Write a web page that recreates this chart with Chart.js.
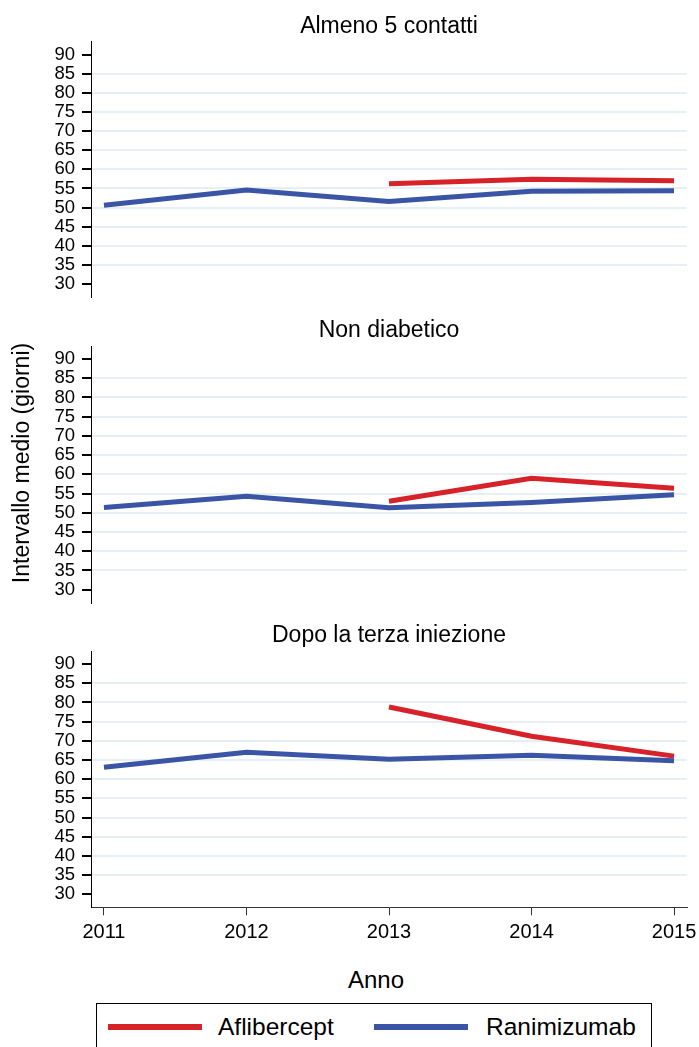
<!DOCTYPE html>
<html>
<head>
<meta charset="utf-8">
<script src="https://cdn.jsdelivr.net/npm/chart.js@4.4.1/dist/chart.umd.min.js"></script>
<style>
  html, body { margin: 0; padding: 0; background: #fff; width: 699px; height: 1047px; overflow: hidden; }
  body { position: relative; font-family: "Liberation Sans", Arial, sans-serif; color: #000; }
  canvas { position: absolute; left: 0; }
  .txt { position: absolute; white-space: nowrap; }
  .ptitle { position: absolute; left: 189px; width: 400px; text-align: center; font-size: 23px; line-height: 26px; }
</style>
</head>
<body>
<canvas id="c1" width="699" height="300" style="top:0px"></canvas>
<canvas id="c2" width="699" height="305" style="top:300px"></canvas>
<canvas id="c3" width="699" height="345" style="top:605px"></canvas>

<div class="ptitle" id="t1" style="top:12px;"></div>
<div class="ptitle" id="t2" style="top:316px;"></div>
<div class="ptitle" id="t3" style="top:621px;"></div>

<div class="txt" id="ytitle" style="left:-179px; top:448px; width:400px; height:30px; line-height:30px; font-size:23px; text-align:center; transform:rotate(-90deg);">Intervallo medio (giorni)</div>
<div class="txt" style="left:276px; top:968px; width:200px; line-height:24px; font-size:24px; text-align:center;">Anno</div>

<div style="position:absolute; left:96px; top:1003px; width:556px; height:60px; border:1.3px solid #000; box-sizing:border-box;"></div>
<div style="position:absolute; left:108px; top:1024px; width:94px; height:6px; background:#d7222a;"></div>
<div class="txt" id="l1" style="left:218px; top:1012px; font-size:24.5px; line-height:30px;"></div>
<div style="position:absolute; left:374px; top:1024px; width:94px; height:6px; background:#3a55a5;"></div>
<div class="txt" id="l2" style="left:486px; top:1012px; font-size:24.5px; line-height:30px;"></div>

<script>
const years = [2011, 2012, 2013, 2014, 2015];
const yTicks = [30, 35, 40, 45, 50, 55, 60, 65, 70, 75, 80, 85, 90];
const seriesNames = ["Aflibercept", "Ranimizumab"];
const panelTitles = ["Almeno 5 contatti", "Non diabetico", "Dopo la terza iniezione"];

const aflibercept1 = [null, null, 56.2, 57.4, 57.0];
const ranimizumab1 = [50.6, 54.6, 51.6, 54.3, 54.4];

const aflibercept2 = [null, null, 53.0, 59.0, 56.4];
const ranimizumab2 = [51.4, 54.3, 51.3, 52.7, 54.7];

const aflibercept3 = [null, null, 78.8, 71.2, 66.0];
const ranimizumab3 = [63.1, 67.0, 65.2, 66.2, 64.8];

document.getElementById('t1').textContent = panelTitles[0];
document.getElementById('t2').textContent = panelTitles[1];
document.getElementById('t3').textContent = panelTitles[2];
document.getElementById('l1').textContent = seriesNames[0];
document.getElementById('l2').textContent = seriesNames[1];

const RED = '#d7222a';
const BLUE = '#3a55a5';
const GRID = '#e6eff3';
const FONT = '"Liberation Sans", Arial, sans-serif';

function toXY(arr) {
  return years.map((yr, i) => ({ x: yr, y: arr[i] }));
}

function makePanel(id, afl, ran, opts) {
  const ctx = document.getElementById(id).getContext('2d');
  return new Chart(ctx, {
    type: 'line',
    data: {
      datasets: [
        { label: seriesNames[0], data: toXY(afl), borderColor: RED, backgroundColor: RED,
          borderWidth: 5, pointRadius: 0, tension: 0, spanGaps: false, order: 1 },
        { label: seriesNames[1], data: toXY(ran), borderColor: BLUE, backgroundColor: BLUE,
          borderWidth: 5, pointRadius: 0, tension: 0, spanGaps: false, order: 0 }
      ]
    },
    options: {
      responsive: false,
      animation: false,
      devicePixelRatio: 1,
      layout: { padding: { left: 0, right: 12, top: opts.padTop, bottom: opts.padBottom } },
      plugins: {
        legend: { display: false },
        tooltip: { enabled: false },
        title: { display: false }
      },
      scales: {
        x: {
          type: 'linear',
          min: 2010.909,
          max: 2015.091,
          display: opts.showX,
          afterBuildTicks: (s) => { s.ticks = years.map(v => ({ value: v })); },
          afterFit: (s) => {
            if (opts.showX) s.height = opts.xHeight;
            s.paddingLeft = 0; s.paddingRight = 0;
          },
          grid: { display: true, drawOnChartArea: false, drawTicks: true, tickLength: 8, tickColor: '#333', color: '#333' },
          border: { display: true, color: '#333', width: 1 },
          ticks: {
            color: '#000',
            padding: 5,
            maxRotation: 0,
            autoSkip: false,
            font: { family: FONT, size: 20 },
            callback: (v) => String(v)
          }
        },
        y: {
          type: 'linear',
          min: 26.6,
          max: 93.4,
          afterBuildTicks: (s) => { s.ticks = yTicks.map(v => ({ value: v })); },
          afterFit: (s) => { s.width = 91; s.paddingTop = 0; s.paddingBottom = 0; },
          grid: {
            display: true,
            drawOnChartArea: true,
            drawTicks: true,
            tickLength: 9,
            tickColor: '#000',
            lineWidth: 2,
            color: (c) => (c.tick && (c.tick.value === 30 || c.tick.value === 90)) ? 'rgba(0,0,0,0)' : GRID
          },
          border: { display: true, color: '#000', width: 1 },
          ticks: {
            color: '#000',
            padding: 7,
            autoSkip: false,
            font: { family: FONT, size: 18.5 },
            callback: (v) => String(v)
          }
        }
      }
    }
  });
}

makePanel('c1', aflibercept1, ranimizumab1,
  { padTop: 41.7, padBottom: 3, showX: false });
makePanel('c2', aflibercept2, ranimizumab2,
  { padTop: 46, padBottom: 2.3, showX: false });
makePanel('c3', aflibercept3, ranimizumab3,
  { padTop: 46, padBottom: 0, showX: true, xHeight: 42.7 });
</script>
</body>
</html>
